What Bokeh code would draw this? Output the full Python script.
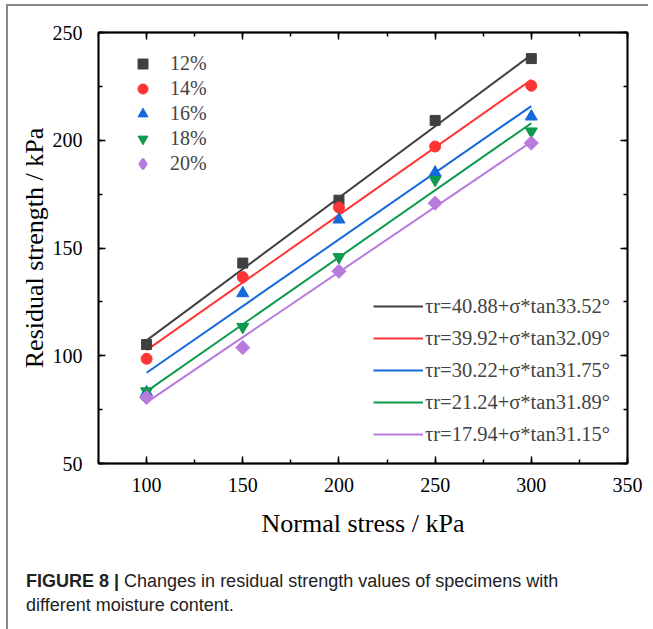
from bokeh.plotting import figure
from bokeh.models import (Legend, LegendItem, LinearAxis, SingleIntervalTicker,
                          Range1d, Div, CustomJSTickFormatter, InlineStyleSheet)
from bokeh.layouts import column
from bokeh.embed import file_html
from bokeh.resources import INLINE
import numpy as np

# ---- data ----
stress = [100, 150, 200, 250, 300]
labels = ["12%", "14%", "16%", "18%", "20%"]
r12 = [105.2, 143.0, 172.2, 209.2, 237.9]
r14 = [98.6, 136.5, 168.8, 197.1, 225.3]
r16 = [83.0, 129.0, 163.2, 185.0, 211.0]
r18 = [83.5, 113.4, 145.8, 181.6, 204.1]
r20 = [80.6, 103.8, 139.2, 170.8, 198.7]
# fitted parameters: cohesion (kPa) and friction angle (deg)
cohesion = [40.88, 39.92, 30.22, 21.24, 17.94]
phi = [33.52, 32.09, 31.75, 31.89, 31.15]
fit_x = [100, 300]

series = [r12, r14, r16, r18, r20]
colors = ["#404040", "#ff3535", "#1669dc", "#0c9a4c", "#b97ade"]
markers = ["square", "circle", "triangle", "inverted_triangle", "square"]
legend_markers = ["square", "circle", "triangle", "inverted_triangle", "diamond"]
msizes = [10, 11, 12, 12, 10]
angles = [0, 0, 0, 0, np.pi / 4]

SERIF = "Liberation Serif"

p = figure(frame_width=529, frame_height=431, output_backend="svg",
           toolbar_location=None, x_range=Range1d(75, 350), y_range=Range1d(50, 250),
           min_border_left=90, min_border_right=20, min_border_top=26,
           min_border_bottom=84, background_fill_color="white",
           border_fill_color="white", outline_line_color="black",
           outline_line_width=1.5)
p.grid.visible = False
p.xaxis.visible = False
p.yaxis.visible = False


def style_axis(ax, show_labels=True):
    ax.axis_line_width = 1.8
    ax.axis_line_color = "black"
    ax.major_tick_in = 7
    ax.major_tick_out = 0
    ax.minor_tick_in = 4
    ax.minor_tick_out = 0
    ax.major_tick_line_width = 1.5
    ax.minor_tick_line_width = 1.5
    ax.major_tick_line_color = "black"
    ax.minor_tick_line_color = "black"
    ax.major_label_text_font = SERIF
    ax.major_label_text_font_size = "20px"
    ax.major_label_text_color = "black"
    ax.axis_label_text_font = SERIF
    ax.axis_label_text_font_size = "26px"
    ax.axis_label_text_font_style = "normal"
    ax.axis_label_text_color = "black"
    if not show_labels:
        ax.formatter = CustomJSTickFormatter(code="return ''")
        ax.major_label_standoff = 0


xb = LinearAxis(ticker=SingleIntervalTicker(interval=50, num_minor_ticks=2),
                axis_label="Normal stress / kPa")
style_axis(xb)
xb.major_label_standoff = 14
xb.axis_label_standoff = 14
yl = LinearAxis(ticker=SingleIntervalTicker(interval=50, num_minor_ticks=2),
                axis_label="Residual strength / kPa")
style_axis(yl)
yl.major_label_standoff = 16
yl.axis_label_standoff = 1
xt = LinearAxis(ticker=SingleIntervalTicker(interval=50, num_minor_ticks=2))
style_axis(xt, False)
yr = LinearAxis(ticker=SingleIntervalTicker(interval=50, num_minor_ticks=2))
style_axis(yr, False)
p.add_layout(xb, "below")
p.add_layout(yl, "left")
p.add_layout(xt, "above")
p.add_layout(yr, "right")

line_items = []
marker_items = []
for i in range(5):
    c0, ph = cohesion[i], phi[i]
    fy = [c0 + x * np.tan(np.radians(ph)) for x in fit_x]
    lr = p.line(fit_x, fy, line_color=colors[i], line_width=2)
    line_items.append(LegendItem(
        label=f"\u03c4r={c0:.2f}+\u03c3*tan{ph:.2f}\u00b0", renderers=[lr]))
for i in range(5):
    sr = p.scatter(stress, series[i], marker=markers[i], size=msizes[i],
                   angle=angles[i],
                   fill_color=colors[i], line_color=colors[i])
    if legend_markers[i] != markers[i]:
        # legend-only glyph (no data points drawn) so the key shows a diamond
        sr = p.scatter([np.nan], [np.nan], marker=legend_markers[i], size=msizes[i],
                       fill_color=colors[i], line_color=colors[i], line_width=2.5)
    marker_items.append(LegendItem(label=labels[i], renderers=[sr]))

leg1 = Legend(items=marker_items, location=(32, 287), padding=0, margin=0,
              glyph_width=25, glyph_height=25, label_height=25, spacing=0,
              label_standoff=15, label_text_font=SERIF, label_text_font_size="20px",
              border_line_color=None, background_fill_alpha=0)
leg2 = Legend(items=line_items, location=(275, 13), padding=0, margin=0,
              glyph_width=50, glyph_height=32, label_height=32, spacing=0,
              label_standoff=2, label_text_font=SERIF, label_text_font_size="20.5px",
              border_line_color=None, background_fill_alpha=0)
p.add_layout(leg1)
p.add_layout(leg2)

cap = Div(text='<b>FIGURE 8 |</b> Changes in residual strength values of specimens with<br>'
               'different moisture content.',
          width=630, height=70,
          styles={"font-family": "Liberation Sans, Arial, sans-serif",
                  "font-size": "18px", "line-height": "24px", "color": "#222",
                  "padding-left": "13px", "margin-top": "22px"})

frame_css = InlineStyleSheet(css=":host { border-left: 2px solid #8a8a8a !important; "
                                 "border-top: 2px solid #8a8a8a !important; }")
lay = column(p, cap, stylesheets=[frame_css],
             styles={"margin-left": "6px", "margin-top": "4px"})

open("out.html", "w").write(file_html(lay, INLINE))
